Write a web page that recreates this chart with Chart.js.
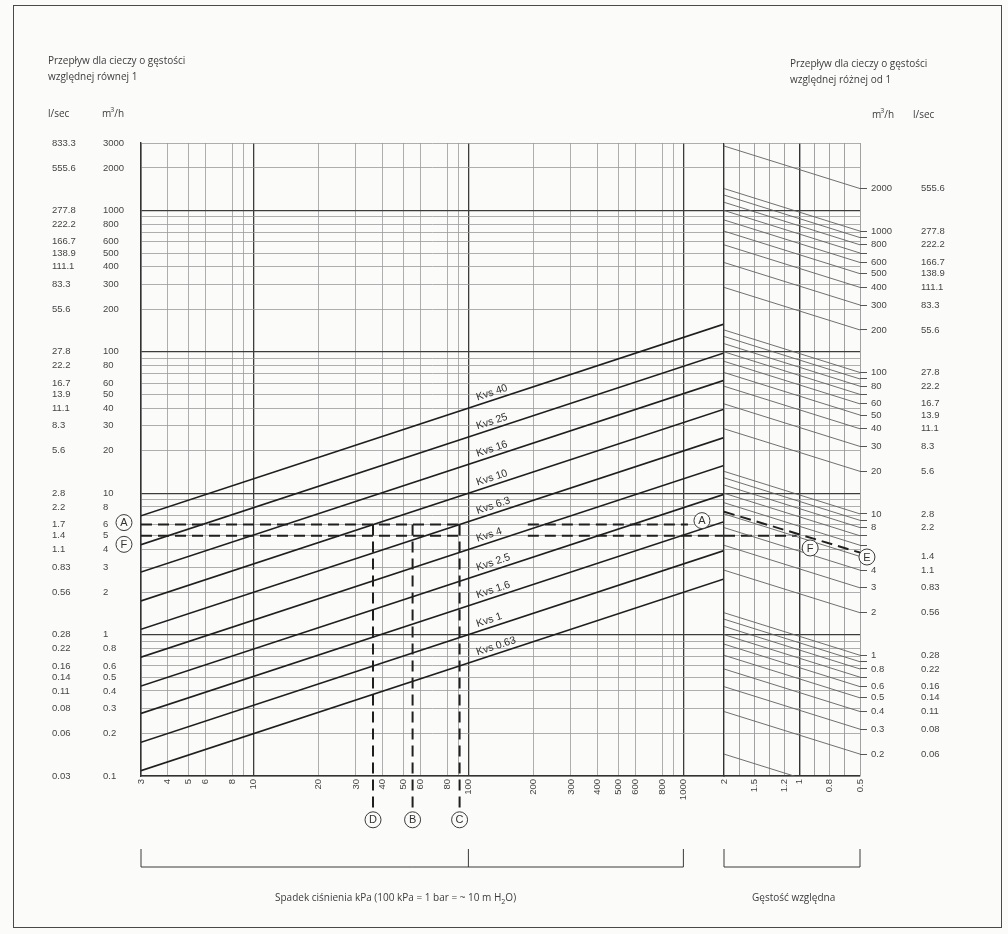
<!DOCTYPE html>
<html lang="pl">
<head>
<meta charset="utf-8">
<title>Dobór zaworu – przepływ i spadek ciśnienia</title>
<script src="https://cdn.jsdelivr.net/npm/chart.js@4/dist/chart.umd.min.js"></script>
<style>
  html, body { margin: 0; padding: 0; background: #fbfbfa; }
  #page { position: relative; width: 1008px; height: 934px; overflow: hidden;
          font-family: "Open Sans", "Noto Sans", sans-serif; color: #3c3c3c; }
  #frame { position: absolute; left: 13px; top: 5px; width: 989px; height: 923px;
           border: 1.5px solid #4a4a4a; box-sizing: border-box; }
  canvas { position: absolute; left: 0; top: 0; }
  .t { position: absolute; font-size: 10px; line-height: 16px; white-space: nowrap; }
  .t sup { font-size: 7px; line-height: 0; vertical-align: 5px; margin-left: -1px; }
</style>
</head>
<body>
<div id="page">
  <div id="frame"></div>
  <canvas id="flowChart" width="1008" height="934"></canvas>
  <canvas id="densityChart" width="1008" height="934"></canvas>

  <div class="t" style="left:48px;top:52px">Przepływ dla cieczy o gęstości<br>względnej równej 1</div>
  <div class="t" style="left:48px;top:105px">l/sec</div>
  <div class="t" style="left:102px;top:105px">m<sup>3</sup>/h</div>

  <div class="t" style="left:790px;top:55px">Przepływ dla cieczy o gęstości<br>względnej różnej od 1</div>
  <div class="t" style="left:872px;top:106px">m<sup>3</sup>/h</div>
  <div class="t" style="left:913px;top:106px">l/sec</div>

  <div class="t" style="left:275px;top:889px">Spadek ciśnienia kPa (100 kPa = 1 bar = ~ 10 m H<sub style="font-size:7px">2</sub>O)</div>
  <div class="t" style="left:752px;top:889px">Gęstość względna</div>
</div>

<script>
// ---- pressure drop axis (kPa) ----
const pressureRange = [3, 1545];
const pressureTicks  = [3, 4, 5, 6, 8, 9, 10, 20, 30, 40, 50, 60, 80, 90, 100, 200, 300, 400, 500, 600, 800, 900, 1000];
const pressureLabels = ['3','4','5','6','8','','10','20','30','40','50','60','80','','100','200','300','400','500','600','800','','1000'];

// ---- flow axis for relative density 1 (m3/h and l/sec) ----
const flowRange = [0.1, 3000];
const flowTicks = [3000, 2000, 1000, 900, 800, 700, 600, 500, 400, 300, 200,
                   100, 90, 80, 70, 60, 50, 40, 30, 20,
                   10, 9, 8, 7, 6, 5, 4, 3, 2,
                   1, 0.9, 0.8, 0.7, 0.6, 0.5, 0.4, 0.3, 0.2, 0.1];
const flowLabelsM3h = ['3000','2000','1000','','800','','600','500','400','300','200',
                       '100','','80','','60','50','40','30','20',
                       '10','','8','','6','5','4','3','2',
                       '1','','0.8','','0.6','0.5','0.4','0.3','0.2','0.1'];
const flowLabelsLsec = ['833.3','555.6','277.8','','222.2','','166.7','138.9','111.1','83.3','55.6',
                        '27.8','','22.2','','16.7','13.9','11.1','8.3','5.6',
                        '2.8','','2.2','','1.7','1.4','1.1','0.83','0.56',
                        '0.28','','0.22','','0.16','0.14','0.11','0.08','0.06','0.03'];

// ---- valve flow coefficients ----
const kvsValues = [40, 25, 16, 10, 6.3, 4, 2.5, 1.6, 1, 0.63];

// ---- relative density panel ----
const densityTicks  = [0, 1, 2, 3, 4, 5, 6, 7, 8, 9];
const densityLabels = ['2', '', '1.5', '', '1.2', '1', '', '0.8', '', '0.5'];
const densityEnds   = [2, 0.5];
const densityFlowScale = 1.4;   // right-hand flow scale relative to the left one
const densityFlowTicks = [2000, 1000, 900, 800, 700, 600, 500, 400, 300, 200,
                          100, 90, 80, 70, 60, 50, 40, 30, 20,
                          10, 9, 8, 7, 6, 5, 4, 3, 2,
                          1, 0.9, 0.8, 0.7, 0.6, 0.5, 0.4, 0.3, 0.2];
const densityLabelsM3h = ['2000','1000','','800','','600','500','400','300','200',
                          '100','','80','','60','50','40','30','20',
                          '10','','8','','','','4','3','2',
                          '1','','0.8','','0.6','0.5','0.4','0.3','0.2'];
const densityLabelsLsec = ['555.6','277.8','','222.2','','166.7','138.9','111.1','83.3','55.6',
                           '27.8','','22.2','','16.7','13.9','11.1','8.3','5.6',
                           '2.8','','2.2','','','1.4','1.1','0.83','0.56',
                           '0.28','','0.22','','0.16','0.14','0.11','0.08','0.06'];
const densityLineEnds = densityFlowTicks.concat([0.1]);

// ---- worked example (dashed guide lines) ----
const exampleFlowA = 6;
const exampleFlowF = 5;
const examplePressureGap = [94, 189];
const exampleAEnd = 1050;
const exampleDrops = [36, 55, 91];          // D, B, C
const exampleDropLabels = ['D', 'B', 'C'];
const exampleFDensityEnd = 4.8;
const exampleSlant = [7.4, 3.8];
const flowMarkers = [
  { t: 'A', x: 2.5, y: 6.2 },
  { t: 'F', x: 2.5, y: 4.35 },
  { t: 'A', x: 1220, y: 6.4 }
].concat(exampleDrops.map((p, i) => ({ t: exampleDropLabels[i], x: p, y: 0.049 })));
const densityMarkers = [
  { t: 'F', x: 5.7, y: 4.1 },
  { t: 'E', x: 9.46, y: 3.54 }
];

// ---------------------------------------------------------------
const INK = '#1f1f1f';
const TICK_FONT = { family: '"Liberation Sans", Arial, sans-serif', size: 9.5 };
const TICK_COLOR = '#454545';
const isDecade = v => Math.abs(Math.log10(v) - Math.round(Math.log10(v))) < 1e-9;
const gridColor = v => isDecade(v) ? '#3c3c3c' : '#9a9a9a';
const gridWidth = v => isDecade(v) ? 1.3 : 0.8;

const kvsFlow = (kvs, dp) => kvs * Math.sqrt(dp / 100);

function labelLookup(values, labels) {
  const m = new Map(values.map((v, i) => [v, labels[i]]));
  return v => (m.has(v) ? m.get(v) : '');
}
const setTicks = values => scale => { scale.ticks = values.map(v => ({ value: v })); };

const markerPlugin = {
  id: 'markers',
  afterDatasetsDraw(chart, args, opts) {
    const { ctx } = chart;
    const xs = chart.scales.x, ys = chart.scales.y;
    ctx.save();
    (opts.items || []).forEach(m => {
      const px = xs.getPixelForValue(m.x), py = ys.getPixelForValue(m.y);
      ctx.beginPath();
      ctx.arc(px, py, 8, 0, Math.PI * 2);
      ctx.fillStyle = '#fbfbfa';
      ctx.fill();
      ctx.lineWidth = 1;
      ctx.strokeStyle = '#3a3a3a';
      ctx.stroke();
      ctx.fillStyle = '#333';
      ctx.font = '11px "Liberation Sans", Arial, sans-serif';
      ctx.textAlign = 'center';
      ctx.textBaseline = 'middle';
      ctx.fillText(m.t, px, py + 0.5);
    });
    ctx.restore();
  }
};

const bracketPlugin = {
  id: 'bracket',
  afterDraw(chart, args, opts) {
    const { ctx } = chart;
    const xs = chart.scales.x;
    const x0 = xs.getPixelForValue(opts.from), x1 = xs.getPixelForValue(opts.to);
    ctx.save();
    ctx.strokeStyle = '#3a3a3a';
    ctx.lineWidth = 1;
    ctx.beginPath();
    ctx.moveTo(x0, opts.top); ctx.lineTo(x0, opts.base); ctx.lineTo(x1, opts.base); ctx.lineTo(x1, opts.top);
    if (opts.mid != null) {
      const xm = xs.getPixelForValue(opts.mid);
      ctx.moveTo(xm, opts.top); ctx.lineTo(xm, opts.base);
    }
    ctx.stroke();
    ctx.restore();
  }
};

const kvsLabelPlugin = {
  id: 'kvsLabels',
  afterDatasetsDraw(chart, args, opts) {
    const { ctx } = chart;
    const xs = chart.scales.x, ys = chart.scales.y;
    ctx.save();
    ctx.fillStyle = '#2e2e2e';
    ctx.font = '10.5px "Liberation Sans", Arial, sans-serif';
    ctx.textAlign = 'left';
    ctx.textBaseline = 'bottom';
    kvsValues.forEach(k => {
      const x0 = xs.getPixelForValue(opts.at), y0 = ys.getPixelForValue(kvsFlow(k, opts.at));
      const x1 = xs.getPixelForValue(opts.at * 2), y1 = ys.getPixelForValue(kvsFlow(k, opts.at * 2));
      ctx.save();
      ctx.translate(x0, y0);
      ctx.rotate(Math.atan2(y1 - y0, x1 - x0));
      ctx.fillText('Kvs ' + k, 0, -2);
      ctx.restore();
    });
    ctx.restore();
  }
};

const solid = (data, extra) => Object.assign({
  data, showLine: true, pointRadius: 0, borderColor: INK, borderWidth: 1.6, fill: false
}, extra || {});
const dashed = (data, extra) => solid(data, Object.assign({ borderDash: [11, 6], borderWidth: 2 }, extra || {}));

// ---- left chart: flow vs. pressure drop with Kvs lines ----
const flowDatasets = [];
kvsValues.forEach(k => {
  flowDatasets.push(solid(pressureRange.map(p => ({ x: p, y: kvsFlow(k, p) }))));
});
flowDatasets.push(dashed([{ x: pressureRange[0], y: exampleFlowA }, { x: examplePressureGap[0], y: exampleFlowA }]));
flowDatasets.push(dashed([{ x: examplePressureGap[1], y: exampleFlowA }, { x: exampleAEnd, y: exampleFlowA }]));
flowDatasets.push(dashed([{ x: pressureRange[0], y: exampleFlowF }, { x: examplePressureGap[0], y: exampleFlowF }]));
flowDatasets.push(dashed([{ x: examplePressureGap[1], y: exampleFlowF }, { x: pressureRange[1], y: exampleFlowF }]));
exampleDrops.forEach(p => {
  flowDatasets.push(dashed([{ x: p, y: exampleFlowA }, { x: p, y: 0.056 }], { clip: false }));
});

new Chart(document.getElementById('flowChart'), {
  type: 'scatter',
  data: { datasets: flowDatasets },
  options: {
    responsive: false, animation: false, devicePixelRatio: 1,
    layout: { padding: { left: 52, top: 143, right: 284, bottom: 118 } },
    plugins: {
      legend: { display: false }, tooltip: { enabled: false },
      markers: { items: flowMarkers },
      bracket: { from: 3, mid: 100, to: 1000, top: 849, base: 867 },
      kvsLabels: { at: 112 }
    },
    scales: {
      x: {
        type: 'logarithmic', min: pressureRange[0], max: pressureRange[1],
        afterBuildTicks: setTicks(pressureTicks),
        afterFit: s => { s.height = 40; },
        ticks: {
          autoSkip: false, minRotation: 90, maxRotation: 90, padding: 3,
          font: TICK_FONT, color: TICK_COLOR,
          callback: labelLookup(pressureTicks, pressureLabels)
        },
        grid: {
          drawTicks: false,
          color: c => gridColor(c.tick.value),
          lineWidth: c => gridWidth(c.tick.value)
        },
        border: { display: true, color: '#333', width: 1.4 }
      },
      y: {
        type: 'logarithmic', position: 'left', weight: 0,
        min: flowRange[0], max: flowRange[1],
        afterBuildTicks: setTicks(flowTicks),
        afterFit: s => { s.width = 38; },
        ticks: {
          autoSkip: false, crossAlign: 'far', padding: 0,
          font: TICK_FONT, color: TICK_COLOR,
          callback: labelLookup(flowTicks, flowLabelsM3h)
        },
        grid: {
          drawTicks: false,
          color: c => gridColor(c.tick.value),
          lineWidth: c => gridWidth(c.tick.value)
        },
        border: { display: true, color: '#333', width: 1.4 }
      },
      ySec: {
        type: 'logarithmic', position: 'left', weight: 1,
        min: flowRange[0], max: flowRange[1],
        afterBuildTicks: setTicks(flowTicks),
        afterFit: s => { s.width = 51; },
        ticks: {
          autoSkip: false, crossAlign: 'far', padding: 0,
          font: TICK_FONT, color: TICK_COLOR,
          callback: labelLookup(flowTicks, flowLabelsLsec)
        },
        grid: { display: false },
        border: { display: false }
      }
    }
  },
  plugins: [kvsLabelPlugin, markerPlugin, bracketPlugin]
});

// ---- right chart: correction for relative density ----
const densityRatio = Math.sqrt(densityEnds[0] / densityEnds[1]);
const densityDatasets = densityLineEnds.map(v => solid(
  [{ x: densityTicks[0], y: v * densityRatio }, { x: densityTicks[densityTicks.length - 1], y: v }],
  { yAxisID: 'y2', borderColor: '#606060', borderWidth: 0.9 }
));
densityDatasets.push(dashed([{ x: densityTicks[0], y: exampleFlowF }, { x: exampleFDensityEnd, y: exampleFlowF }]));
densityDatasets.push(dashed([{ x: densityTicks[0], y: exampleSlant[0] }, { x: densityTicks[densityTicks.length - 1], y: exampleSlant[1] }]));

new Chart(document.getElementById('densityChart'), {
  type: 'scatter',
  data: { datasets: densityDatasets },
  options: {
    responsive: false, animation: false, devicePixelRatio: 1,
    layout: { padding: { left: 724, top: 143, right: 47, bottom: 118 } },
    plugins: {
      legend: { display: false }, tooltip: { enabled: false },
      markers: { items: densityMarkers },
      bracket: { from: 0, to: 9, top: 849, base: 867 }
    },
    scales: {
      x: {
        type: 'linear', min: densityTicks[0], max: densityTicks[densityTicks.length - 1],
        afterBuildTicks: setTicks(densityTicks),
        afterFit: s => { s.height = 40; },
        ticks: {
          autoSkip: false, minRotation: 90, maxRotation: 90, padding: 3,
          font: TICK_FONT, color: TICK_COLOR,
          callback: labelLookup(densityTicks, densityLabels)
        },
        grid: {
          drawTicks: false,
          color: c => (c.tick.value === 0 || c.tick.value === 5) ? '#333' : '#8a8a8a',
          lineWidth: c => (c.tick.value === 0 || c.tick.value === 5) ? 1.4 : 0.8
        },
        border: { display: true, color: '#333', width: 1.4 }
      },
      y: {
        type: 'logarithmic', position: 'left',
        min: flowRange[0], max: flowRange[1],
        afterBuildTicks: setTicks(flowTicks),
        afterFit: s => { s.width = 0; },
        ticks: { display: false },
        grid: {
          drawTicks: false,
          color: c => gridColor(c.tick.value),
          lineWidth: c => gridWidth(c.tick.value)
        },
        border: { display: false }
      },
      y2: {
        type: 'logarithmic', position: 'right', weight: 0,
        min: flowRange[0] * densityFlowScale, max: flowRange[1] * densityFlowScale,
        afterBuildTicks: setTicks(densityFlowTicks),
        afterFit: s => { s.width = 41; },
        ticks: {
          autoSkip: false, padding: 4,
          font: TICK_FONT, color: TICK_COLOR,
          callback: labelLookup(densityFlowTicks, densityLabelsM3h)
        },
        grid: { drawOnChartArea: false, drawTicks: true, tickLength: 7, tickColor: '#555', tickWidth: 1 },
        border: { display: false }
      },
      y2s: {
        type: 'logarithmic', position: 'right', weight: 1,
        min: flowRange[0] * densityFlowScale, max: flowRange[1] * densityFlowScale,
        afterBuildTicks: setTicks(densityFlowTicks),
        afterFit: s => { s.width = 60; },
        ticks: {
          autoSkip: false, padding: 12,
          font: TICK_FONT, color: TICK_COLOR,
          callback: labelLookup(densityFlowTicks, densityLabelsLsec)
        },
        grid: { display: false },
        border: { display: false }
      }
    }
  },
  plugins: [markerPlugin, bracketPlugin]
});
</script>
</body>
</html>
